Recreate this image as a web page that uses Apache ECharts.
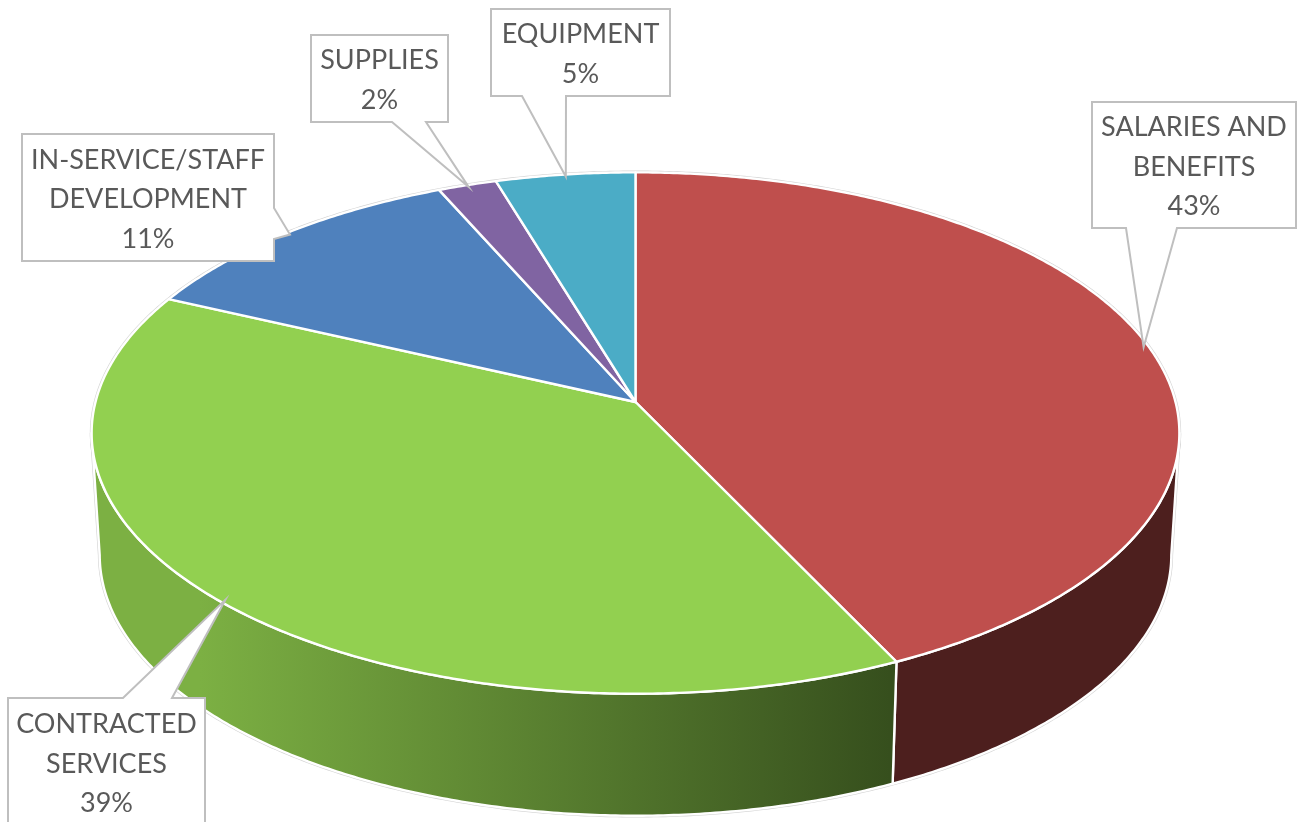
<!DOCTYPE html>
<html>
<head>
<meta charset="utf-8">
<title>Budget pie</title>
<style>
  html, body { margin: 0; padding: 0; background: #fff; }
  #chart { width: 1303px; height: 822px; }
</style>
<script src="https://cdn.jsdelivr.net/npm/echarts@6/dist/echarts.min.js"></script>
</head>
<body>
<div id="chart"></div>
<script>
// values (the labels show them rounded)
const categories = [
  'SALARIES AND\nBENEFITS',
  'CONTRACTED\nSERVICES',
  'IN-SERVICE/STAFF\nDEVELOPMENT',
  'SUPPLIES',
  'EQUIPMENT'
];
const shares = [42.9, 39.0, 11.49, 1.96, 4.65];
const topColors = ['#bf4f4d', '#92d050', '#4f81bd', '#8064a2', '#4bacc6'];

// perspective of the disc, in pixels
const cx = 635.5;
const topY = 402;
const botY = 524;
const topA = 540;
const botA = 532;
const B = 257;
const K = 0.119;
const edgeAngle = Math.acos(K) * 180 / Math.PI; // left/right edge, measured from the front

const total = shares.reduce((a, b) => a + b, 0);
const starts = [];
shares.reduce((sum, v, i) => { starts[i] = sum; return sum + v; }, 0);

function project(deg, y0, a, r) {
  const t = deg * Math.PI / 180;
  const u = Math.sin(t) * (r || 1);
  const v = -Math.cos(t) * (r || 1);
  const d = 1 - K * v;
  return [cx + a * u / d, y0 + B * v / d];
}

function arc(from, to, y0, a) {
  const pts = [];
  const n = Math.max(2, Math.ceil(Math.abs(to - from) * 2));
  for (let i = 0; i <= n; i++) {
    pts.push(project(from + (to - from) * i / n, y0, a));
  }
  return pts;
}

function sliceAngles(i) {
  return [starts[i] / total * 360, (starts[i] + shares[i]) / total * 360];
}

// front wall is only visible between the two side edges of the ellipse
const wallFrom = 180 - edgeAngle;
const wallTo = 180 + edgeAngle;

const wallFills = [
  '#4d1f1e',
  {
    type: 'linear', global: true, x: 200, y: 0, x2: 890, y2: 0,
    colorStops: [
      { offset: 0, color: '#7cb043' },
      { offset: 1, color: '#364f1d' }
    ]
  }
];

function renderRim(params, api) {
  const whole = arc(0, 360, topY, topA);
  const bottom = arc(wallFrom, wallTo, botY, botA);
  const rimStyle = { fill: '#fff', stroke: '#d4d4d4', lineWidth: 3.6 };
  return {
    type: 'group',
    silent: true,
    children: [
      { type: 'polygon', shape: { points: whole.map(p => api.coord(p)) }, style: rimStyle },
      {
        type: 'polygon',
        shape: { points: bottom.concat(arc(wallTo, wallFrom, topY, topA)).map(p => api.coord(p)) },
        style: rimStyle
      }
    ]
  };
}

function renderWall(params, api) {
  const i = params.dataIndex;
  const [a0, a1] = sliceAngles(i);
  const from = Math.max(a0, wallFrom);
  const to = Math.min(a1, wallTo);
  if (to <= from) return null;
  const pts = arc(from, to, topY, topA).concat(arc(to, from, botY, botA));
  return {
    type: 'polygon',
    silent: true,
    shape: { points: pts.map(p => api.coord(p)) },
    style: { fill: wallFills[i], stroke: '#fff', lineWidth: 2.4, lineJoin: 'round' }
  };
}

function renderTop(params, api) {
  const i = params.dataIndex;
  const [a0, a1] = sliceAngles(i);
  const pts = [[cx, topY]].concat(arc(a0, a1, topY, topA));
  return {
    type: 'polygon',
    silent: true,
    shape: { points: pts.map(p => api.coord(p)) },
    style: { fill: topColors[i], stroke: '#fff', lineWidth: 2.4, lineJoin: 'round' }
  };
}

// callout boxes: box corners, which side the pointer leaves from, pointer base on that side
const callouts = [
  { x0: 1092, y0: 102, x1: 1296, y1: 228, side: 'bottom', b0: 1177, b1: 1126 },
  { x0: 8, y0: 698, x1: 205, y1: 826, side: 'top', b0: 123, b1: 172 },
  { x0: 22, y0: 134, x1: 274, y1: 261, side: 'right', b0: 208, b1: 239 },
  { x0: 311, y0: 35, x1: 448, y1: 122, side: 'bottom', b0: 426, b1: 392 },
  { x0: 491, y0: 9, x1: 670, y1: 96, side: 'bottom', b0: 566, b1: 522 }
];

function renderCallout(params, api) {
  const i = params.dataIndex;
  const c = callouts[i];
  const [a0, a1] = sliceAngles(i);
  const tip = project((a0 + a1) / 2, topY, topA, 0.99);
  let pts;
  if (c.side === 'bottom') {
    pts = [[c.x0, c.y0], [c.x1, c.y0], [c.x1, c.y1], [c.b0, c.y1], tip, [c.b1, c.y1], [c.x0, c.y1]];
  } else if (c.side === 'top') {
    pts = [[c.x0, c.y0], [c.b0, c.y0], tip, [c.b1, c.y0], [c.x1, c.y0], [c.x1, c.y1], [c.x0, c.y1]];
  } else {
    pts = [[c.x0, c.y0], [c.x1, c.y0], [c.x1, c.b0], tip, [c.x1, c.b1], [c.x1, c.y1], [c.x0, c.y1]];
  }
  const mid = api.coord([(c.x0 + c.x1) / 2, (c.y0 + c.y1) / 2 + 2]);
  return {
    type: 'group',
    silent: true,
    children: [
      {
        type: 'polygon',
        shape: { points: pts.map(p => api.coord(p)) },
        style: { fill: '#fff', stroke: '#bfbfbf', lineWidth: 2 }
      },
      {
        type: 'text',
        x: mid[0],
        y: mid[1],
        style: {
          text: categories[i] + '\n' + Math.round(shares[i] / total * 100) + '%',
          fill: '#595959',
          font: '27px Lato',
          lineHeight: 39.5,
          align: 'center',
          verticalAlign: 'middle'
        }
      }
    ]
  };
}

const rows = shares.map((v, i) => [i, v]);
const layer = (name, z, renderItem) => ({
  type: 'custom',
  name: name,
  coordinateSystem: 'cartesian2d',
  z: z,
  clip: false,
  silent: true,
  data: rows,
  renderItem: renderItem
});

const chart = echarts.init(document.getElementById('chart'));
chart.setOption({
  animation: false,
  backgroundColor: '#fff',
  grid: { left: 0, right: 0, top: 0, bottom: 0 },
  xAxis: { type: 'value', min: 0, max: 1303, show: false },
  yAxis: { type: 'value', min: 0, max: 822, inverse: true, show: false },
  series: [
    layer('rim', 1, (p, api) => (p.dataIndex === 0 ? renderRim(p, api) : null)),
    layer('wall', 2, renderWall),
    layer('top', 3, renderTop),
    layer('callout', 4, renderCallout)
  ]
});
</script>
</body>
</html>
